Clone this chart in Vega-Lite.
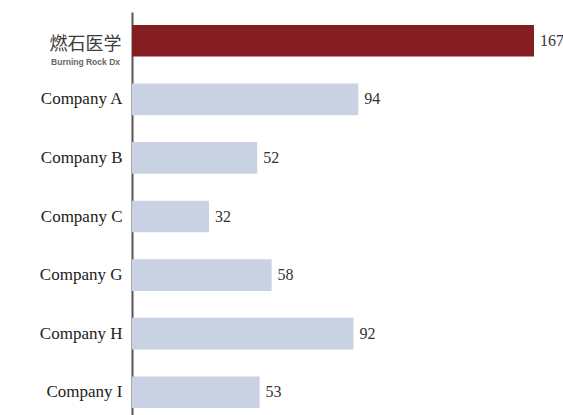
{
  "$schema": "https://vega.github.io/schema/vega-lite/v6.json",
  "autosize": {"type": "none"},
  "padding": {"left": 132, "top": 12, "right": 29, "bottom": 0},
  "width": 402,
  "height": 409,
  "background": "white",
  "data": {"values": [
    {"company": "燃石医学", "value": 167, "group": "brd", "sub": "Burning Rock Dx"},
    {"company": "Company A", "value": 94, "group": "other", "sub": ""},
    {"company": "Company B", "value": 52, "group": "other", "sub": ""},
    {"company": "Company C", "value": 32, "group": "other", "sub": ""},
    {"company": "Company G", "value": 58, "group": "other", "sub": ""},
    {"company": "Company H", "value": 92, "group": "other", "sub": ""},
    {"company": "Company I", "value": 53, "group": "other", "sub": ""}
  ]},
  "encoding": {
    "y": {"field": "company", "type": "nominal", "sort": null,
      "scale": {"paddingInner": 0.46, "paddingOuter": 0.22},
      "axis": {"title": null, "ticks": false, "domainColor": "#555555", "domainWidth": 2,
        "labelFontSize": {"condition": {"test": "datum.value == '燃石医学'", "value": 18}, "value": 17},
        "labelFont": {"condition": {"test": "datum.value == '燃石医学'", "value": "Noto Sans CJK SC"}, "value": "Liberation Serif"},
        "labelColor": {"condition": {"test": "datum.value == '燃石医学'", "value": "#3c3c3c"}, "value": "#222222"},
        "labelOffset": {"condition": {"test": "datum.value == '燃石医学'", "value": 4}, "value": 0},
        "labelPadding": {"condition": {"test": "datum.value == '燃石医学'", "value": 11}, "value": 10}}},
    "x": {"field": "value", "type": "quantitative", "scale": {"domain": [0, 167], "nice": false}, "axis": null}
  },
  "layer": [
    {"mark": {"type": "bar"},
     "encoding": {"color": {"field": "group", "type": "nominal", "legend": null,
       "scale": {"domain": ["brd", "other"], "range": ["#841e21", "#c8d2e2"]}}}},
    {"mark": {"type": "text", "align": "left", "dx": 6, "font": "Liberation Serif", "fontSize": 16, "color": "#333333"},
     "encoding": {"text": {"field": "value", "type": "quantitative"}}},
    {"transform": [{"filter": "datum.sub != ''"}],
     "mark": {"type": "text", "align": "right", "dx": -12, "dy": 21, "font": "Liberation Sans", "fontSize": 8.5, "fontWeight": "bold", "color": "#666666"},
     "encoding": {"x": {"datum": 0}, "text": {"field": "sub", "type": "nominal"}}}
  ],
  "config": {"view": {"stroke": null}}
}
